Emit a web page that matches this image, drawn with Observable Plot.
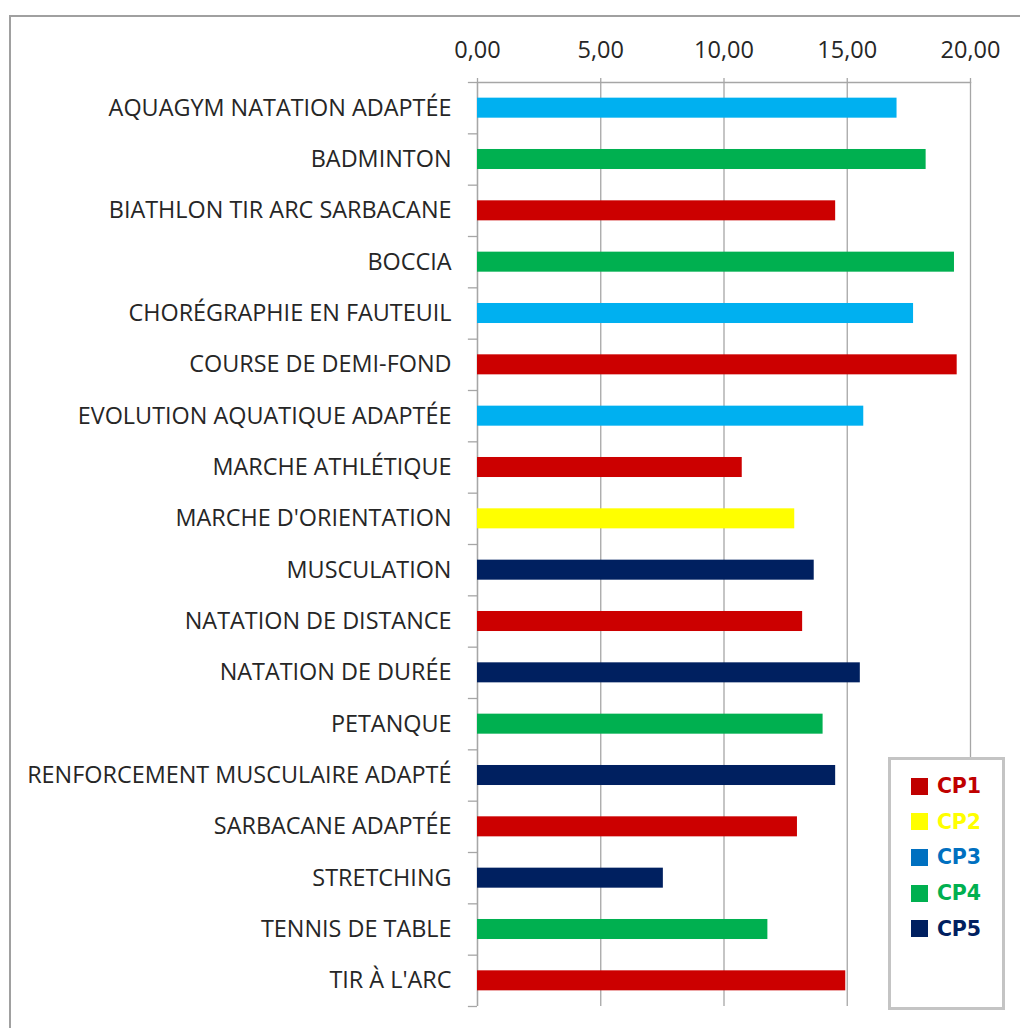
<!DOCTYPE html>
<html>
<head>
<meta charset="utf-8">
<script src="https://cdn.jsdelivr.net/npm/d3@7"></script>
<script src="https://cdn.jsdelivr.net/npm/@observablehq/plot@0.6"></script>
<style>
  html, body { margin: 0; padding: 0; background: #fff; }
  #wrap { position: relative; width: 1020px; height: 1028px; overflow: hidden; }
  #border { position: absolute; left: 9px; top: 15px; width: 1100px; height: 1100px; border-left: 2px solid #a0a0a0; border-top: 2px solid #a0a0a0; box-sizing: border-box; }
  #chart { position: absolute; left: 0; top: 0; }
  #legend { position: absolute; left: 888px; top: 757px; width: 117px; height: 253px; border: 3px solid #c4c4c4; background: #fff; box-sizing: border-box; }
  .item { position: absolute; left: 20px; height: 20px; display: flex; align-items: center; font-family: "DejaVu Sans", sans-serif; font-weight: 900; font-size: 20.5px; letter-spacing: -0.2px; }
  .sw { width: 17px; height: 17px; margin-right: 9px; }
</style>
</head>
<body>
<div id="wrap">
  <div id="border"></div>
  <div id="chart"></div>
  <div id="legend"></div>
</div>
<script>
const activities = [
  "AQUAGYM NATATION ADAPTÉE",
  "BADMINTON",
  "BIATHLON TIR ARC SARBACANE",
  "BOCCIA",
  "CHORÉGRAPHIE EN FAUTEUIL",
  "COURSE DE DEMI-FOND",
  "EVOLUTION AQUATIQUE ADAPTÉE",
  "MARCHE ATHLÉTIQUE",
  "MARCHE D'ORIENTATION",
  "MUSCULATION",
  "NATATION DE DISTANCE",
  "NATATION DE DURÉE",
  "PETANQUE",
  "RENFORCEMENT MUSCULAIRE ADAPTÉ",
  "SARBACANE ADAPTÉE",
  "STRETCHING",
  "TENNIS DE TABLE",
  "TIR À L'ARC"
];
const scores = [17.02, 18.2, 14.53, 19.35, 17.69, 19.46, 15.67, 10.74, 12.87, 13.66, 13.19, 15.53, 14.02, 14.53, 12.98, 7.54, 11.78, 14.94];
const groups = ["CP3", "CP4", "CP1", "CP4", "CP3", "CP1", "CP3", "CP1", "CP2", "CP5", "CP1", "CP5", "CP4", "CP5", "CP1", "CP5", "CP4", "CP1"];
const cpNames = ["CP1", "CP2", "CP3", "CP4", "CP5"];
const barColors = ["#CC0000", "#FFFF00", "#00B0F0", "#00B050", "#002060"];
const legendColors = ["#C00000", "#FFFF00", "#0070C0", "#00B050", "#002060"];
const xTicks = [0, 5, 10, 15, 20];

const data = activities.map((a, i) => ({name: a, value: scores[i], cp: groups[i]}));
const plotTop = 82, plotBottom = 1006;
const step = (plotBottom - plotTop) / activities.length;
const font = "Open Sans, sans-serif";

const chart = Plot.plot({
  width: 1020,
  height: 1028,
  marginLeft: 477,
  marginRight: 50,
  marginTop: plotTop,
  marginBottom: 1028 - plotBottom,
  style: {background: "transparent", fontFamily: font, fontSize: "20px", color: "#262626"},
  x: {domain: [0, 20]},
  y: {domain: activities, paddingInner: 0.61, paddingOuter: 0.305, round: false},
  color: {domain: cpNames, range: barColors},
  marks: [
    Plot.gridX(xTicks, {stroke: "#a6a6a6", strokeOpacity: 1, strokeWidth: 1.3}),
    Plot.ruleY(activities, {y: d => d, x1: -0.37, x2: 0, dy: -step / 2, stroke: "#a6a6a6", strokeWidth: 1.3}),
    Plot.ruleY([activities[activities.length - 1]], {y: d => d, x1: -0.37, x2: 0, dy: step / 2, stroke: "#a6a6a6", strokeWidth: 1.3}),
    Plot.ruleX([0], {stroke: "#a6a6a6", strokeWidth: 1.3}),
    Plot.frame({anchor: "top", stroke: "#a6a6a6", strokeWidth: 1.3}),
    Plot.barX(data, {x: "value", y: "name", fill: "cp"}),
    Plot.axisX(xTicks, {anchor: "top", tickSize: 5, tickPadding: 20, stroke: "#a6a6a6", strokeWidth: 1.3, strokeOpacity: 1,
      tickFormat: d => d.toFixed(2).replace(".", ","), fontSize: 23.5, fill: "#262626", label: null}),
    Plot.axisY({tickSize: 0, tickPadding: 26, fontSize: 23.4, fill: "#262626", label: null})
  ]
});
document.getElementById("chart").appendChild(chart);

const legend = document.getElementById("legend");
cpNames.forEach((cp, i) => {
  const it = document.createElement("div");
  it.className = "item";
  it.style.top = (16 + i * 35.7) + "px";
  const sw = document.createElement("div");
  sw.className = "sw";
  sw.style.background = legendColors[i];
  const tx = document.createElement("span");
  tx.textContent = cp;
  tx.style.color = legendColors[i];
  it.appendChild(sw);
  it.appendChild(tx);
  legend.appendChild(it);
});
</script>
</body>
</html>
